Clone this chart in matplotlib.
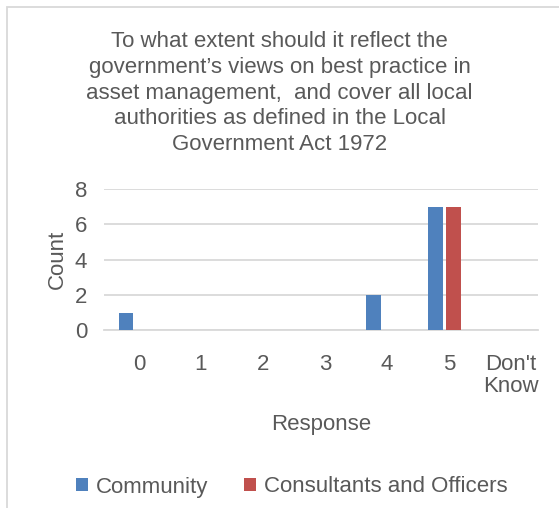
import matplotlib.pyplot as plt
import numpy as np
from matplotlib.patches import Rectangle
from matplotlib.transforms import ScaledTranslation

plt.rcParams['font.family'] = ['Liberation Sans', 'DejaVu Sans']

# Survey responses per group
responses = ['0', '1', '2', '3', '4', '5', "Don't\nKnow"]
community = [1, 0, 0, 0, 2, 7, 0]
consultants = [0, 0, 0, 0, 0, 7, 0]

text_color = '#595959'
grid_color = '#D9D9D9'

fig = plt.figure(figsize=(5.59, 5.08), dpi=100)
ax = fig.add_axes([0.186, 0.350, 0.776, 0.278])

x = np.arange(len(responses))
width = 0.24
offset = 0.145
ax.bar(x - offset, community, width, color='#4F81BD', label='Community', zorder=3)
ax.bar(x + offset, consultants, width, color='#C0504D',
       label='Consultants and Officers', zorder=3)

ax.set_xlim(-0.5, len(responses) - 0.5)
ax.set_ylim(0, 8)
ax.set_yticks([0, 2, 4, 6, 8])
ax.set_xticks(x)
ax.set_xticklabels(responses, multialignment='center', linespacing=1.1)
ax.yaxis.grid(True, color=grid_color, linewidth=1.3, zorder=0)
for s in ['top', 'right', 'left']:
    ax.spines[s].set_visible(False)
ax.spines['bottom'].set_color(grid_color)
ax.spines['bottom'].set_linewidth(1.3)
ax.tick_params(axis='both', length=0, labelsize=16, labelcolor=text_color)
ax.tick_params(axis='x', pad=17)
ax.tick_params(axis='y', pad=12)

# category labels sit a little right of the bar groups
shift = ScaledTranslation(4 / 100, 0, fig.dpi_scale_trans)
for lbl in ax.get_xticklabels():
    lbl.set_transform(lbl.get_transform() + shift)

ax.set_ylabel('Count', fontsize=16, color=text_color, labelpad=5)
ax.set_xlabel('Response', fontsize=16, color=text_color, labelpad=12)

fig.text(0.5, 1 - 31 / 508, 'To what extent should it reflect the\n'
         'government\u2019s views on best practice in\n'
         'asset management,  and cover all local\n'
         'authorities as defined in the Local\n'
         'Government Act 1972',
         ha='center', va='top', fontsize=16, color=text_color, linespacing=1.30)

ax.legend(loc='center', bbox_to_anchor=(0.522, 1 - 487 / 508), bbox_transform=fig.transFigure,
          ncol=2, frameon=False, fontsize=16, labelcolor=text_color,
          handlelength=0.55, handleheight=0.55, handletextpad=0.36, columnspacing=1.6)

# light chart-area border (clipped at right and bottom)
fig.patches.append(Rectangle((7 / 559, -0.1), 1.2, 1 - 7 / 508 + 0.1,
                             transform=fig.transFigure, fill=False,
                             edgecolor=grid_color, linewidth=1.3))

fig.savefig('out.png', dpi=100)
